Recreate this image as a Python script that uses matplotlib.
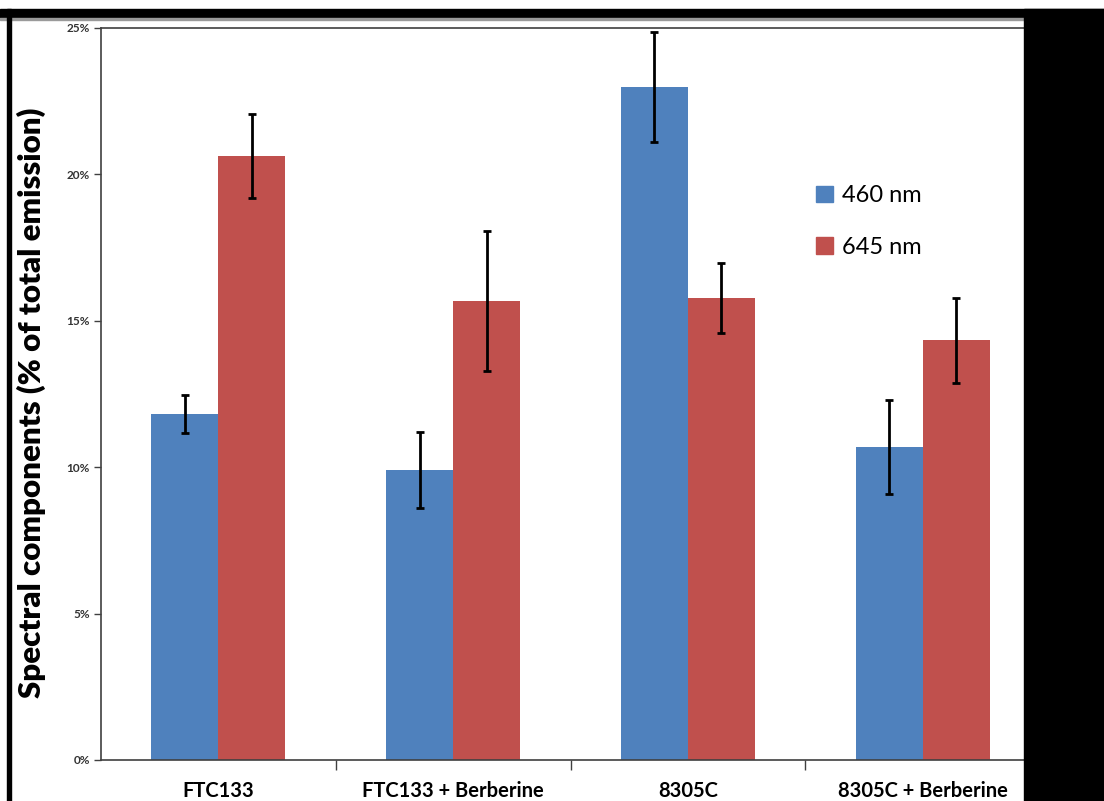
import matplotlib
matplotlib.use("Agg")
import matplotlib.pyplot as plt
from matplotlib.patches import Rectangle, Patch
from matplotlib.ticker import FuncFormatter
import numpy as np

plt.rcParams['font.family'] = ['Lato', 'DejaVu Sans']

# spectral components per cell line (% of total emission)
groups = ['FTC133', 'FTC133 + Berberine', '8305C', '8305C + Berberine']
blue_460 = [11.82, 9.90, 22.98, 10.69]
blue_err = [0.65, 1.30, 1.88, 1.60]
red_645 = [20.63, 15.68, 15.78, 14.34]
red_err = [1.42, 2.40, 1.21, 1.45]
series_names = ['460 nm', '645 nm']

c_blue = '#4F81BD'
c_red = '#C0504D'

fig = plt.figure(figsize=(11.04, 8.01), dpi=100)
ax = fig.add_axes([101 / 1104, 41 / 801, 939 / 1104, 732 / 801])

x = np.arange(len(groups))
w = 0.285
ax.bar(x - w / 2, blue_460, w, color=c_blue, zorder=2)
ax.bar(x + w / 2, red_645, w, color=c_red, zorder=2)
ax.errorbar(x - w / 2, blue_460, yerr=blue_err, fmt='none', ecolor='black',
            elinewidth=2, capsize=3, capthick=2, zorder=3)
ax.errorbar(x + w / 2, red_645, yerr=red_err, fmt='none', ecolor='black',
            elinewidth=2, capsize=3, capthick=2, zorder=3)

ax.set_xlim(-0.5, len(groups) - 0.5)
ax.set_ylim(0, 25)
ax.set_yticks(np.arange(0, 26, 5))
ax.yaxis.set_major_formatter(FuncFormatter(lambda v, p: f'{v:.0f}%'))
ax.tick_params(axis='y', direction='out', length=5, width=1, color='#404040',
               labelsize=8.5, labelcolor='#333333', pad=3)
for t in ax.get_yticklabels():
    t.set_fontweight('bold')

# category ticks sit on group boundaries, labels at group centres
ax.set_xticks(np.arange(0.5, len(groups) - 0.5, 1.0))
ax.set_xticklabels([])
ax.tick_params(axis='x', direction='out', length=7, width=1, color='#404040')
for i, g in enumerate(groups):
    ax.text(i, -0.72, g, ha='center', va='top', fontsize=14.5, fontweight='bold')

for s in ['left', 'bottom', 'top']:
    ax.spines[s].set_color('#404040')
    ax.spines[s].set_linewidth(1.2)
ax.spines['right'].set_visible(False)

ax.set_ylabel('Spectral components (% of total emission)', fontsize=22.5,
              fontweight='heavy')
ax.yaxis.set_label_coords(-55 / 939, 0.488)

handles = [Patch(color=c_blue), Patch(color=c_red)]
ax.legend(handles, series_names, loc='upper left',
          bbox_to_anchor=(694 / 939, 1 - 136 / 732), frameon=False,
          fontsize=17, handlelength=0.7, handleheight=0.7,
          handletextpad=0.4, labelspacing=1.3)

# black frame around the picture
fig.patches.append(Rectangle((0, 1 - 17 / 801), 1, 8 / 801, transform=fig.transFigure,
                             color='black', zorder=10))
fig.patches.append(Rectangle((0, 1 - 20 / 801), 1024 / 1104, 2 / 801,
                             transform=fig.transFigure, color='#9a9a9a', zorder=10))
fig.patches.append(Rectangle((7 / 1104, 0), 4 / 1104, 1 - 9 / 801,
                             transform=fig.transFigure, color='black', zorder=10))
fig.patches.append(Rectangle((1024 / 1104, 0), 80 / 1104, 1 - 9 / 801,
                             transform=fig.transFigure, color='black', zorder=10))

fig.savefig('out.png', dpi=100)
